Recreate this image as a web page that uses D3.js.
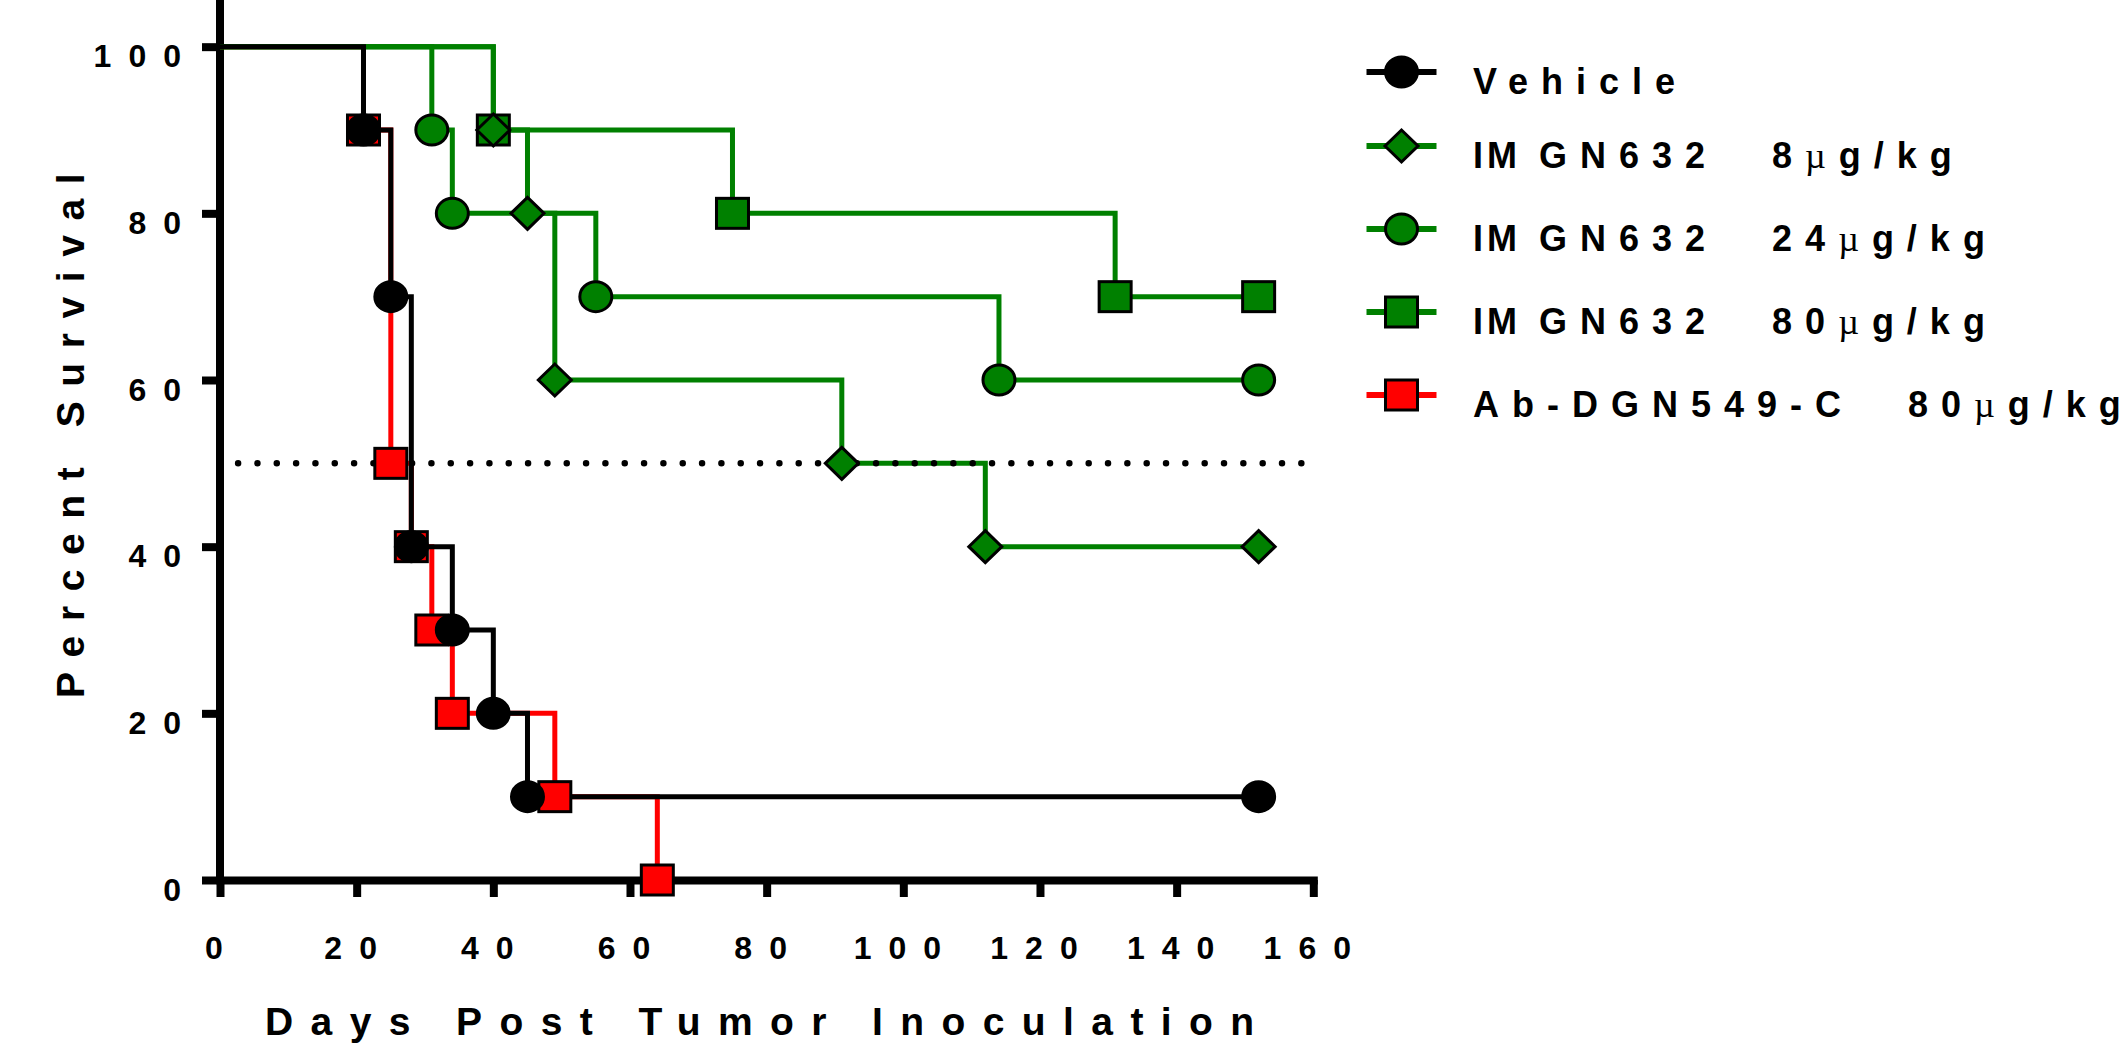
<!DOCTYPE html>
<html><head><meta charset="utf-8">
<script src="https://cdn.jsdelivr.net/npm/d3@7"></script>
<style>
html,body{margin:0;padding:0;background:#fff;overflow:hidden}
svg{display:block}
text{font-family:"Liberation Sans",Arial,Helvetica,sans-serif;font-weight:bold;fill:#000}
</style></head><body>
<svg id="chart" width="2119" height="1047"></svg>
<script>
// ---------------- data ----------------
const seriesLabels = ["Vehicle", "IMGN632\u2002 8µg/kg", "IMGN632\u2002 24µg/kg", "IMGN632\u2002 80µg/kg", "Ab-DGN549-C\u2002 80µg/kg"];
const seriesColors = ["#000000", "#008000", "#008000", "#008000", "#ff0000"];
const seriesSymbols = ["circle", "diamond", "circle", "square", "square"];

const vehicleDays = [0, 21, 25, 28, 34, 40, 45, 152];
const vehicleSurvival = [100, 90, 70, 40, 30, 20, 10, 10];
const imgn8Days = [0, 40, 45, 49, 91, 112, 152];
const imgn8Survival = [100, 90, 80, 60, 50, 40, 40];
const imgn24Days = [0, 31, 34, 55, 114, 152];
const imgn24Survival = [100, 90, 80, 70, 60, 60];
const imgn80Days = [0, 40, 75, 131, 152];
const imgn80Survival = [100, 90, 80, 70, 70];
const abDays = [0, 21, 25, 28, 31, 34, 49, 64];
const abSurvival = [100, 90, 50, 40, 30, 20, 10, 0];

const xTicks = [0, 20, 40, 60, 80, 100, 120, 140, 160];
const yTicks = [0, 20, 40, 60, 80, 100];
const medianSurvival = 50;
const medianLineDays = [2.65, 158.25];

const xTitle = "Days Post Tumor Inoculation";
const yTitle = "Percent Survival";

// ---------------- build ----------------
const daysList = [vehicleDays, imgn8Days, imgn24Days, imgn80Days, abDays];
const survList = [vehicleSurvival, imgn8Survival, imgn24Survival, imgn80Survival, abSurvival];
const series = seriesLabels.map((label, i) => ({
  label, color: seriesColors[i], symbol: seriesSymbols[i],
  points: daysList[i].map((d, j) => ({day: d, s: survList[i][j]}))
}));

const svg = d3.select("#chart");
const x = d3.scaleLinear().domain([0, 160]).range([220, 1313.3]);
const y = d3.scaleLinear().domain([0, 105.6]).range([880, 0]);

// axes
const gx = svg.append("g").attr("transform", `translate(0,${y(0)})`)
  .call(d3.axisBottom(x).tickValues(xTicks).tickSize(17).tickSizeOuter(0).tickFormat(d3.format("d")));
const gy = svg.append("g").attr("transform", `translate(${x(0)},0)`)
  .call(d3.axisLeft(y).tickValues(yTicks).tickSize(18).tickSizeOuter(0).tickFormat(d3.format("d")));

[gx, gy].forEach(g => {
  g.attr("font-family", null).attr("font-size", null);
  g.select(".domain").attr("stroke", "#000").attr("stroke-width", 8).attr("stroke-linecap", "square");
  g.selectAll(".tick line").attr("stroke", "#000").attr("stroke-width", 8);
  g.selectAll(".tick text").attr("fill", "#000").style("font-size", "32px").style("letter-spacing", "17px");
});
gx.selectAll(".tick text").attr("y", 0).attr("dy", 79).attr("dx", 2);
gy.selectAll(".tick text").attr("x", -22).attr("dy", 20);
gy.select(".domain").attr("d", `M0,${y(0)}V${y(105.6)}`);

// titles
svg.append("text").attr("x", 265).attr("y", 1035)
  .style("font-size", "39px").style("letter-spacing", "17.4px").text(xTitle);
svg.append("text").attr("transform", "translate(84,698) rotate(-90)")
  .style("font-size", "39px").style("letter-spacing", "14.6px").text(yTitle);

// symbols
function drawSymbol(sel, symbol, color) {
  if (symbol === "circle") {
    sel.append("ellipse").attr("rx", 16).attr("ry", 15);
  } else if (symbol === "square") {
    sel.append("rect").attr("x", -16).attr("y", -15).attr("width", 32).attr("height", 30);
  } else {
    sel.append("path").attr("d", "M0,-16L16.5,0L0,16L-16.5,0Z");
  }
  sel.selectAll("*").attr("fill", color).attr("stroke", "#000").attr("stroke-width", 3).attr("stroke-linejoin", "miter");
}

const line = d3.line().x(d => x(d.day)).y(d => y(d.s)).curve(d3.curveStepAfter);
const drawOrder = series.slice().reverse();

const linesG = svg.append("g");
drawOrder.forEach(s => {
  linesG.append("path").attr("d", line(s.points)).attr("fill", "none")
    .attr("stroke", s.color).attr("stroke-width", 5).attr("stroke-linejoin", "miter");
});

// median dotted line
svg.append("line")
  .attr("x1", x(medianLineDays[0])).attr("x2", x(medianLineDays[1]))
  .attr("y1", y(medianSurvival)).attr("y2", y(medianSurvival))
  .attr("stroke", "#000").attr("stroke-width", 6.5).attr("stroke-linecap", "round")
  .attr("stroke-dasharray", `0 ${(x(medianLineDays[1]) - x(medianLineDays[0])) / 55}`);

const markersG = svg.append("g");
drawOrder.forEach(s => {
  s.points.slice(1).forEach(p => {
    const g = markersG.append("g").attr("transform", `translate(${x(p.day)},${y(p.s)})`);
    drawSymbol(g, s.symbol, s.color);
  });
});

// legend
const legendG = svg.append("g");
series.forEach((s, i) => {
  const ry = i === 0 ? 72 : 146 + (i - 1) * 83;
  const g = legendG.append("g").attr("transform", `translate(1401.5,${ry})`);
  g.append("line").attr("x1", -35).attr("x2", 35).attr("stroke", s.color).attr("stroke-width", 6);
  drawSymbol(g.append("g"), s.symbol, s.color);
  const t = legendG.append("text").attr("x", 1473).attr("y", ry + 22)
    .style("font-size", "36px").style("letter-spacing", "13px").style("white-space", "pre");
  const parts = s.label.split("µ");
  let head = parts[0];
  if (head.startsWith("IM")) {
    // the reference sets "I" and "M" tight together, with a wider gap after "M"
    t.append("tspan").style("letter-spacing", "4px").text("I");
    t.append("tspan").style("letter-spacing", "22px").text("M");
    t.append("tspan").text(head.slice(2));
  } else {
    t.append("tspan").text(head);
  }
  if (parts.length > 1) {
    t.append("tspan").style("font-family", '"Liberation Serif","Times New Roman",serif')
      .style("font-weight", "normal").text("µ");
    t.append("tspan").text(parts[1]);
  }
});
</script>
</body></html>
